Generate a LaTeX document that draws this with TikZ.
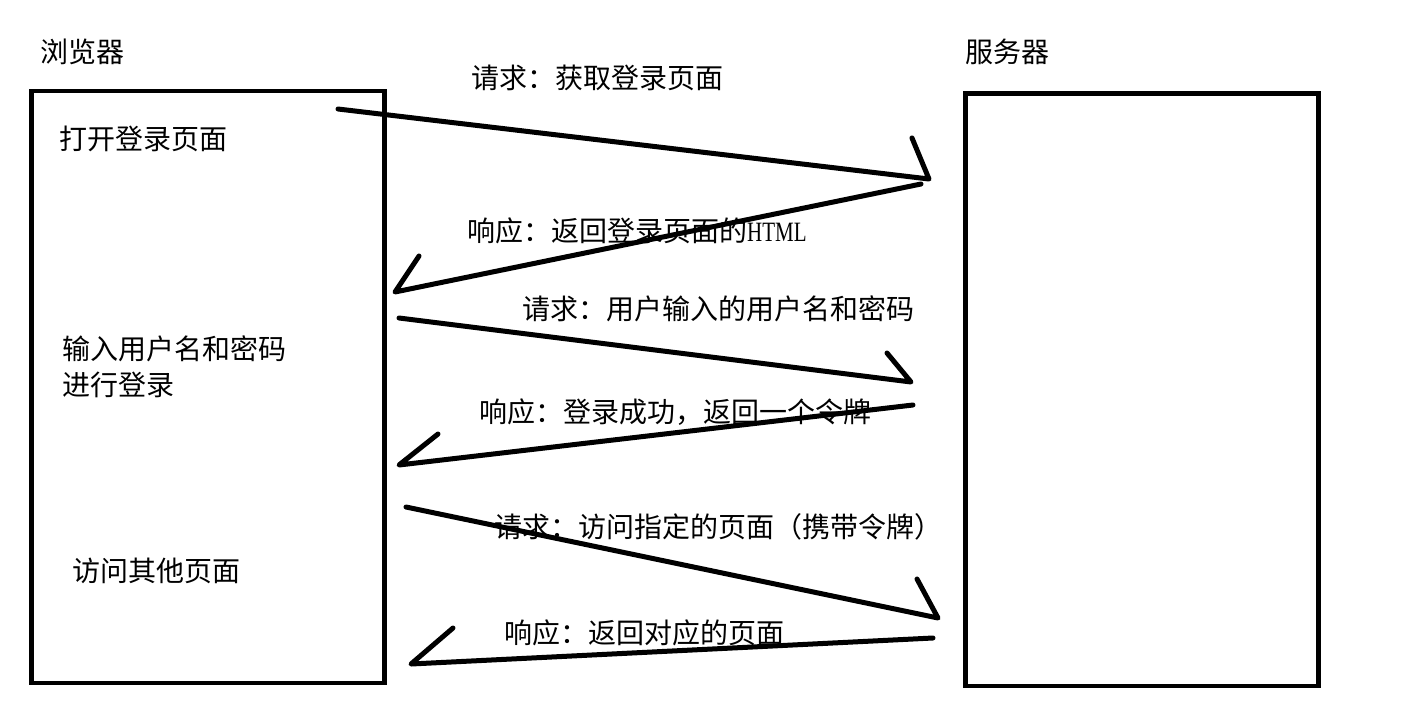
\documentclass[tikz,border=0pt]{standalone}
\usepackage{fontspec}
\setmainfont{Noto Sans CJK SC}
\newfontfamily\latina[FakeStretch=0.75]{Liberation Serif}
\usetikzlibrary{positioning}
\tikzset{
  caja/.style={draw, line width=4.7pt, minimum width=353pt, inner sep=0pt},
  texto/.style={anchor=west, inner sep=0pt, align=left, font=\fontsize{28}{36}\selectfont},
  flecha/.style={line width=5pt, line cap=round, line join=round},
}

\begin{document}
\begin{tikzpicture}[x=1pt, y=-1pt]
  \useasboundingbox (0,0) rectangle (1424,715);
  \node[caja, minimum height=592pt] (nav) at (208.1,387) {};
  \node[caja, minimum height=592.5pt] (srv) at (1142.1,389.75) {};
  \node[texto] (tnav) at (40,52) {浏览器};
  \node[texto] (tsrv) at (965,52) {服务器};
  \node[texto] (abrir) at (59,138.7) {打开登录页面};
  \node[texto] (entrar) at (62,367) {输入用户名和密码\\进行登录};
  \node[texto] (otras) at (72,571) {访问其他页面};
  % mensajes
  \node[texto] (m1) at (471,78) {请求：获取登录页面};
  \node[texto] (m2) at (467,231) {响应：返回登录页面的{\latina HTML}};
  \node[texto] (m3) at (522,309) {请求：用户输入的用户名和密码};
  \node[texto] (m4) at (479,412) {响应：登录成功，返回一个令牌};
  \node[texto] (m5) at (494,527) {请求：访问指定的页面（携带令牌）};
  \node[texto] (m6) at (504,633) {响应：返回对应的页面};
  % flechas: inicio, punta, gancho
  \coordinate (a1) at (338,109);   \coordinate (b1) at (929,179);   \coordinate (c1) at (912,138);
  \coordinate (a2) at (921,184);   \coordinate (b2) at (395,292);   \coordinate (c2) at (419,256);
  \coordinate (a3) at (399,318);   \coordinate (b3) at (911,382);   \coordinate (c3) at (887,353);
  \coordinate (a4) at (913,405);   \coordinate (b4) at (399,465);   \coordinate (c4) at (438,434);
  \coordinate (a5) at (406,507);   \coordinate (b5) at (938,618);   \coordinate (c5) at (917,579);
  \coordinate (a6) at (933,638);   \coordinate (b6) at (411,664);   \coordinate (c6) at (453,628);
  \foreach \i in {1,...,6} \draw[flecha] (a\i) -- (b\i) -- (c\i);
\end{tikzpicture}
\end{document}
